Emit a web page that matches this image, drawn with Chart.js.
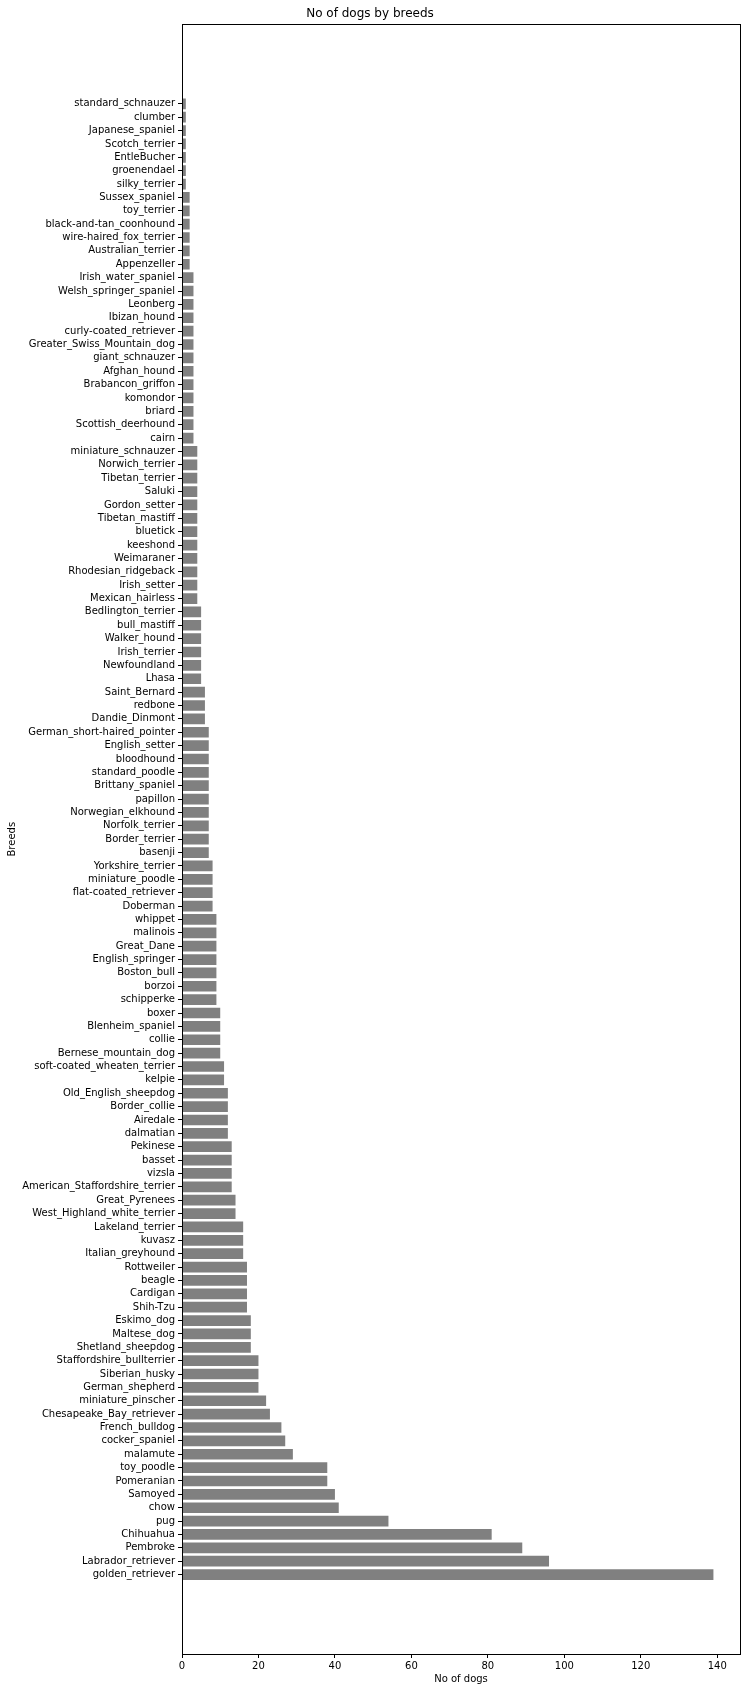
<!DOCTYPE html>
<html>
<head>
<meta charset="utf-8">
<script src="https://cdn.jsdelivr.net/npm/chart.js@4/dist/chart.umd.min.js"></script>
<style>
  html, body { margin: 0; padding: 0; background: #fff; }
  #wrap { width: 750px; height: 1692px; position: relative; }
</style>
</head>
<body>
<div id="wrap"><canvas id="c" width="750" height="1692"></canvas></div>
<script>
// Breeds listed from bottom (index 0) to top of the chart
const breeds = [
  "golden_retriever","Labrador_retriever","Pembroke","Chihuahua","pug","chow","Samoyed","Pomeranian","toy_poodle","malamute",
  "cocker_spaniel","French_bulldog","Chesapeake_Bay_retriever","miniature_pinscher","German_shepherd","Siberian_husky","Staffordshire_bullterrier","Shetland_sheepdog","Maltese_dog","Eskimo_dog",
  "Shih-Tzu","Cardigan","beagle","Rottweiler","Italian_greyhound","kuvasz","Lakeland_terrier","West_Highland_white_terrier","Great_Pyrenees","American_Staffordshire_terrier",
  "vizsla","basset","Pekinese","dalmatian","Airedale","Border_collie","Old_English_sheepdog","kelpie","soft-coated_wheaten_terrier","Bernese_mountain_dog",
  "collie","Blenheim_spaniel","boxer","schipperke","borzoi","Boston_bull","English_springer","Great_Dane","malinois","whippet",
  "Doberman","flat-coated_retriever","miniature_poodle","Yorkshire_terrier","basenji","Border_terrier","Norfolk_terrier","Norwegian_elkhound","papillon","Brittany_spaniel",
  "standard_poodle","bloodhound","English_setter","German_short-haired_pointer","Dandie_Dinmont","redbone","Saint_Bernard","Lhasa","Newfoundland","Irish_terrier",
  "Walker_hound","bull_mastiff","Bedlington_terrier","Mexican_hairless","Irish_setter","Rhodesian_ridgeback","Weimaraner","keeshond","bluetick","Tibetan_mastiff",
  "Gordon_setter","Saluki","Tibetan_terrier","Norwich_terrier","miniature_schnauzer","cairn","Scottish_deerhound","briard","komondor","Brabancon_griffon",
  "Afghan_hound","giant_schnauzer","Greater_Swiss_Mountain_dog","curly-coated_retriever","Ibizan_hound","Leonberg","Welsh_springer_spaniel","Irish_water_spaniel","Appenzeller","Australian_terrier",
  "wire-haired_fox_terrier","black-and-tan_coonhound","toy_terrier","Sussex_spaniel","silky_terrier","groenendael","EntleBucher","Scotch_terrier","Japanese_spaniel","clumber",
  "standard_schnauzer"
];

const counts = [
  139, 96, 89, 81, 54, 41, 40, 38, 38, 29,
  27, 26, 23, 22, 20, 20, 20, 18, 18, 18,
  17, 17, 17, 17, 16, 16, 16, 14, 14, 13,
  13, 13, 13, 12, 12, 12, 12, 11, 11, 10,
  10, 10, 10, 9, 9, 9, 9, 9, 9, 9,
  8, 8, 8, 8, 7, 7, 7, 7, 7, 7,
  7, 7, 7, 7, 6, 6, 6, 5, 5, 5,
  5, 5, 5, 4, 4, 4, 4, 4, 4, 4,
  4, 4, 4, 4, 4, 3, 3, 3, 3, 3,
  3, 3, 3, 3, 3, 3, 3, 3, 2, 2,
  2, 2, 2, 2, 1, 1, 1, 1, 1, 1,
  1
];

const xTicks = [0, 20, 40, 60, 80, 100, 120, 140];

const chartTitle = "No of dogs by breeds";
const xTitle = "No of dogs";
const yTitle = "Breeds";

Chart.defaults.font.family = "'DejaVu Sans', sans-serif";
Chart.defaults.font.size = 10;
Chart.defaults.color = "#000";

// matplotlib-like 5% margins
const maxVal = Math.max(...counts);
const xMax = maxVal * 1.05;
const yPad = ((breeds.length - 1) + 0.8) * 0.05 + 0.4;
const yMin = -yPad;
const yMax = (breeds.length - 1) + yPad;

const frame = {
  id: 'frame',
  afterDraw(chart) {
    const {ctx, chartArea: a} = chart;
    ctx.save();
    ctx.strokeStyle = '#000';
    ctx.lineWidth = 1;
    ctx.strokeRect(Math.round(a.left) + 0.5, Math.round(a.top) + 0.5,
                   Math.round(a.right - a.left), Math.round(a.bottom - a.top));
    ctx.restore();
  }
};

new Chart(document.getElementById('c'), {
  type: 'bar',
  data: {
    datasets: [{
      data: breeds.map((b, i) => ({ x: counts[i], y: i })),
      backgroundColor: '#808080',
      borderWidth: 0,
      categoryPercentage: 1.0,
      barPercentage: 0.8
    }]
  },
  options: {
    indexAxis: 'y',
    responsive: false,
    animation: false,
    layout: { padding: { left: 0, right: 10, top: 0, bottom: 0 } },
    plugins: {
      legend: { display: false },
      tooltip: { enabled: false },
      title: {
        display: true,
        text: chartTitle,
        font: { size: 12, weight: 'normal' },
        color: '#000',
        padding: { top: 7, bottom: 3 }
      }
    },
    scales: {
      x: {
        type: 'linear',
        min: 0,
        max: xMax,
        offset: false,
        afterBuildTicks(scale) { scale.ticks = xTicks.map(v => ({ value: v })); },
        afterFit(scale) { scale.height = 38; },
        ticks: { padding: 2, autoSkip: false, maxRotation: 0, color: '#000' },
        grid: { display: true, offset: false, drawOnChartArea: false, drawTicks: true, tickLength: 4, color: '#000', tickWidth: 1 },
        border: { display: true, color: '#000', width: 1 },
        title: { display: true, text: xTitle, color: '#000', padding: { top: 0, bottom: 7 } }
      },
      y: {
        type: 'linear',
        min: yMin,
        max: yMax,
        offset: false,
        afterBuildTicks(scale) { scale.ticks = breeds.map((b, i) => ({ value: i })); },
        afterFit(scale) { scale.width = 182; },
        ticks: {
          autoSkip: false,
          padding: 3,
          color: '#000',
          callback: (v) => breeds[v]
        },
        grid: { display: true, offset: false, drawOnChartArea: false, drawTicks: true, tickLength: 4, color: '#000', tickWidth: 1 },
        border: { display: true, color: '#000', width: 1 },
        title: { display: true, text: yTitle, color: '#000', padding: { top: 6, bottom: 0 } }
      }
    }
  },
  plugins: [frame]
});
</script>
</body>
</html>
